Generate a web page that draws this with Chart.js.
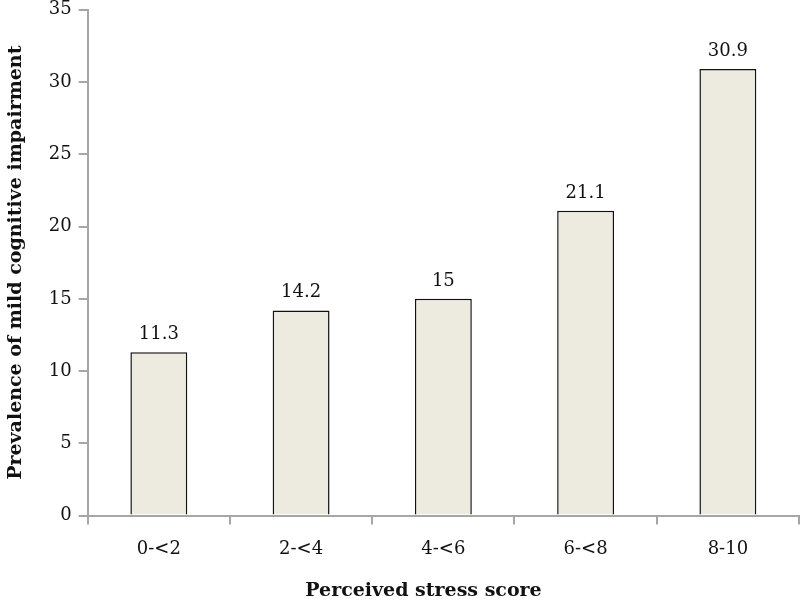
<!DOCTYPE html>
<html>
<head>
<meta charset="utf-8">
<script src="https://cdn.jsdelivr.net/npm/chart.js@4/dist/chart.umd.min.js"></script>
<style>
  html, body { margin: 0; padding: 0; background: #fff; overflow: hidden; }
  #wrap { width: 800px; height: 610px; margin-top: -8px; }
</style>
</head>
<body>
<div id="wrap"><canvas id="barChart"></canvas></div>
<script>
// data
var categories = ["0-<2", "2-<4", "4-<6", "6-<8", "8-10"];
var prevalence = [11.3, 14.2, 15, 21.1, 30.9];
var yTicks = [0, 5, 10, 15, 20, 25, 30, 35];

var serif = "'DejaVu Serif', 'Liberation Serif', serif";
var axisGrey = "#a6a6a6";

// value labels above each bar
var valueLabels = {
  id: 'valueLabels',
  afterDatasetsDraw: function(chart) {
    var ctx = chart.ctx;
    var meta = chart.getDatasetMeta(0);
    ctx.save();
    ctx.font = "18px " + serif;
    ctx.fillStyle = "#111";
    ctx.textAlign = "center";
    ctx.textBaseline = "alphabetic";
    meta.data.forEach(function(bar, i) {
      ctx.fillText(String(prevalence[i]), bar.x, bar.y - 13);
    });
    ctx.restore();
  }
};

var barCanvas = document.getElementById("barChart");

var barChart = new Chart(barCanvas, {
  type: 'bar',
  data: {
    labels: categories,
    datasets: [{
      data: prevalence,
      backgroundColor: "#edeae0",
      borderColor: "#111",
      borderWidth: 1.5,
      categoryPercentage: 1,
      barPercentage: 0.4
    }]
  },
  options: {
    responsive: true,
    maintainAspectRatio: false,
    animation: false,
    layout: { padding: { top: 0, right: 1, bottom: 0, left: 5 } },
    plugins: {
      legend: { display: false },
      tooltip: { enabled: false }
    },
    scales: {
      x: {
        offset: true,
        grid: {
          offset: true,
          drawOnChartArea: false,
          drawTicks: true,
          tickLength: 9,
          color: axisGrey,
          lineWidth: 2
        },
        border: { color: axisGrey, width: 2 },
        ticks: {
          color: "#111",
          font: { family: serif, size: 18 },
          padding: 14
        },
        title: {
          display: true,
          // trailing spaces nudge the title left like the original
          text: "Perceived stress score      ",
          color: "#111",
          font: { family: serif, size: 19, weight: 'bold' },
          padding: { top: 5, bottom: 0 }
        }
      },
      y: {
        min: 0,
        max: 35,
        afterBuildTicks: function(axis) {
          axis.ticks = yTicks.map(function(v) { return { value: v }; });
        },
        grid: {
          drawOnChartArea: false,
          drawTicks: true,
          tickLength: 9,
          color: axisGrey,
          lineWidth: 2
        },
        border: { color: axisGrey, width: 2 },
        ticks: {
          color: "#111",
          font: { family: serif, size: 18 },
          padding: 7
        },
        title: {
          display: true,
          text: "Prevalence of mild cognitive impairment",
          color: "#111",
          font: { family: serif, size: 19, weight: 'bold' },
          padding: { top: 0, bottom: 14 }
        }
      }
    }
  },
  plugins: [valueLabels]
});
</script>
</body>
</html>
